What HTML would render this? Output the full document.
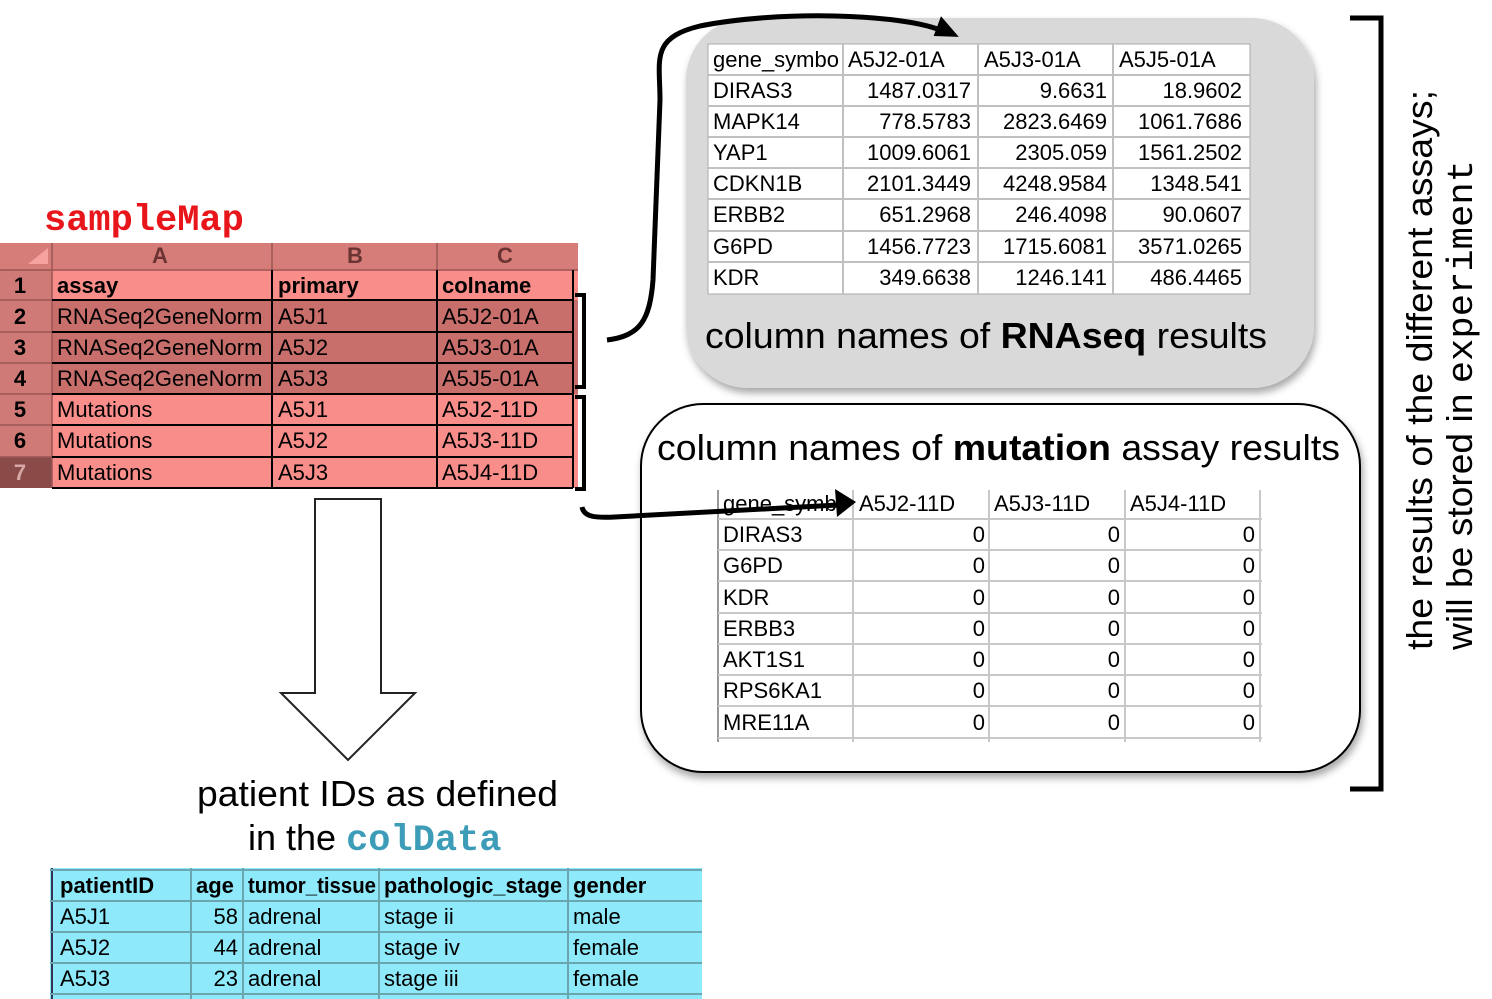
<!DOCTYPE html>
<html><head><meta charset="utf-8"><style>
html,body{margin:0;padding:0;background:#fff;width:1492px;height:999px;overflow:hidden}
svg{display:block}
.c{font-family:"Liberation Sans",sans-serif;fill:#000}
.b{font-weight:bold}
.m{font-family:"Liberation Mono",monospace;font-weight:bold}
</style></head><body>
<svg width="1492" height="999" viewBox="0 0 1492 999" xmlns="http://www.w3.org/2000/svg">
<defs>
<filter id="sh" x="-5%" y="-5%" width="110%" height="115%"><feDropShadow dx="2" dy="5" stdDeviation="4" flood-color="#000" flood-opacity="0.35"/></filter>
</defs>

<!-- sampleMap -->
<text x="44" y="230" class="m" font-size="37" fill="#e8151b">sampleMap</text>
<rect x="0" y="243" width="578" height="27" fill="#d67c79"/>
<rect x="0" y="270" width="52" height="218" fill="#d07a77"/>
<rect x="0" y="457" width="52" height="31" fill="#8a4a48"/>
<rect x="52" y="270" width="526" height="30" fill="#f98d8a"/>
<rect x="52" y="300" width="526" height="94" fill="#c86e6b"/>
<rect x="52" y="394" width="526" height="94" fill="#f98d8a"/>
<path d="M28,264 L48,264 L48,248 Z" fill="#f6a3a0"/>
<g stroke="#9a5654" stroke-width="1.5">
<line x1="52" y1="243" x2="52" y2="488"/>
<line x1="0" y1="270" x2="578" y2="270"/>
<line x1="272" y1="243" x2="272" y2="270"/><line x1="437" y1="243" x2="437" y2="270"/>
<line x1="0" y1="300" x2="52" y2="300"/><line x1="0" y1="332" x2="52" y2="332"/><line x1="0" y1="363" x2="52" y2="363"/><line x1="0" y1="394" x2="52" y2="394"/><line x1="0" y1="425" x2="52" y2="425"/><line x1="0" y1="457" x2="52" y2="457"/>
</g>
<g stroke="#000" stroke-width="2">
<line x1="52" y1="300" x2="573" y2="300"/><line x1="52" y1="332" x2="573" y2="332"/><line x1="52" y1="363" x2="573" y2="363"/><line x1="52" y1="394" x2="573" y2="394"/><line x1="52" y1="425" x2="573" y2="425"/><line x1="52" y1="457" x2="573" y2="457"/><line x1="52" y1="488" x2="573" y2="488"/>
<line x1="272" y1="270" x2="272" y2="488"/><line x1="437" y1="270" x2="437" y2="488"/><line x1="573" y1="270" x2="573" y2="488"/>
</g>
<g class="c" font-size="22" fill="#5a2a28" text-anchor="middle" font-weight="bold">
<text x="160" y="263" fill="#6a3433">A</text><text x="355" y="263" fill="#6a3433">B</text><text x="505" y="263" fill="#6a3433">C</text>
<text x="20" y="293">1</text><text x="20" y="324">2</text><text x="20" y="355">3</text><text x="20" y="386">4</text><text x="20" y="417">5</text><text x="20" y="448">6</text><text x="20" y="480" fill="#d8a8a6">7</text>
</g>
<g class="c" font-size="22">
<text x="57" y="293" class="b">assay</text><text x="278" y="293" class="b">primary</text><text x="442" y="293" class="b">colname</text>
<text x="57" y="324">RNASeq2GeneNorm</text><text x="278" y="324">A5J1</text><text x="442" y="324">A5J2-01A</text>
<text x="57" y="355">RNASeq2GeneNorm</text><text x="278" y="355">A5J2</text><text x="442" y="355">A5J3-01A</text>
<text x="57" y="386">RNASeq2GeneNorm</text><text x="278" y="386">A5J3</text><text x="442" y="386">A5J5-01A</text>
<text x="57" y="417">Mutations</text><text x="278" y="417">A5J1</text><text x="442" y="417">A5J2-11D</text>
<text x="57" y="448">Mutations</text><text x="278" y="448">A5J2</text><text x="442" y="448">A5J3-11D</text>
<text x="57" y="480">Mutations</text><text x="278" y="480">A5J3</text><text x="442" y="480">A5J4-11D</text>
</g>
<g fill="none" stroke="#000" stroke-width="4">
<path d="M575,295 L584,295 L584,387 L575,387"/>
<path d="M575,397 L584,397 L584,489 L575,489"/>
</g>

<!-- RNA box -->
<rect x="686" y="18" width="628" height="370" rx="62" fill="#d9d9d9" filter="url(#sh)"/>
<rect x="708" y="44" width="542" height="250" fill="#fff" stroke="#aaa"/>
<g stroke="#c0c0c0" stroke-width="2">
<line x1="843" y1="44" x2="843" y2="294"/><line x1="978" y1="44" x2="978" y2="294"/><line x1="1113" y1="44" x2="1113" y2="294"/>
<line x1="708" y1="75" x2="1250" y2="75"/><line x1="708" y1="106" x2="1250" y2="106"/><line x1="708" y1="137" x2="1250" y2="137"/><line x1="708" y1="168" x2="1250" y2="168"/><line x1="708" y1="199" x2="1250" y2="199"/><line x1="708" y1="231" x2="1250" y2="231"/><line x1="708" y1="262" x2="1250" y2="262"/>
</g>
<g class="c" font-size="22">
<text x="713" y="67">gene_symbo</text><text x="848" y="67">A5J2-01A</text><text x="984" y="67">A5J3-01A</text><text x="1119" y="67">A5J5-01A</text>
<text x="713" y="98">DIRAS3</text><text x="713" y="129">MAPK14</text><text x="713" y="160">YAP1</text><text x="713" y="191">CDKN1B</text><text x="713" y="222">ERBB2</text><text x="713" y="254">G6PD</text><text x="713" y="285">KDR</text>
</g>
<g class="c" font-size="22" text-anchor="end">
<text x="971" y="98">1487.0317</text><text x="1107" y="98">9.6631</text><text x="1242" y="98">18.9602</text>
<text x="971" y="129">778.5783</text><text x="1107" y="129">2823.6469</text><text x="1242" y="129">1061.7686</text>
<text x="971" y="160">1009.6061</text><text x="1107" y="160">2305.059</text><text x="1242" y="160">1561.2502</text>
<text x="971" y="191">2101.3449</text><text x="1107" y="191">4248.9584</text><text x="1242" y="191">1348.541</text>
<text x="971" y="222">651.2968</text><text x="1107" y="222">246.4098</text><text x="1242" y="222">90.0607</text>
<text x="971" y="254">1456.7723</text><text x="1107" y="254">1715.6081</text><text x="1242" y="254">3571.0265</text>
<text x="971" y="285">349.6638</text><text x="1107" y="285">1246.141</text><text x="1242" y="285">486.4465</text>
</g>
<text x="705" y="348" class="c" font-size="36" textLength="562" lengthAdjust="spacingAndGlyphs">column names of <tspan font-weight="bold">RNAseq</tspan> results</text>

<!-- Mutation box -->
<rect x="641" y="404" width="719" height="368" rx="62" fill="#fff" stroke="#000" stroke-width="2" filter="url(#sh)"/>
<text x="657" y="460" class="c" font-size="36" textLength="683" lengthAdjust="spacingAndGlyphs">column names of <tspan font-weight="bold">mutation</tspan> assay results</text>
<g stroke="#c8c8c8" stroke-width="2">
<line x1="718" y1="490" x2="718" y2="742" stroke="#999"/><line x1="853" y1="490" x2="853" y2="742"/><line x1="989" y1="490" x2="989" y2="742"/><line x1="1125" y1="490" x2="1125" y2="742"/><line x1="1260" y1="490" x2="1260" y2="742"/>
<line x1="718" y1="519" x2="1262" y2="519"/><line x1="718" y1="550" x2="1262" y2="550"/><line x1="718" y1="581" x2="1262" y2="581"/><line x1="718" y1="613" x2="1262" y2="613"/><line x1="718" y1="644" x2="1262" y2="644"/><line x1="718" y1="675" x2="1262" y2="675"/><line x1="718" y1="706" x2="1262" y2="706"/><line x1="718" y1="738" x2="1262" y2="738"/>
</g>
<g class="c" font-size="22">
<text x="723" y="511">gene_symb</text><text x="859" y="511">A5J2-11D</text><text x="994" y="511">A5J3-11D</text><text x="1130" y="511">A5J4-11D</text>
<text x="723" y="542">DIRAS3</text><text x="723" y="573">G6PD</text><text x="723" y="605">KDR</text><text x="723" y="636">ERBB3</text><text x="723" y="667">AKT1S1</text><text x="723" y="698">RPS6KA1</text><text x="723" y="730">MRE11A</text>
</g>
<g class="c" font-size="22" text-anchor="end">
<text x="985" y="542">0</text><text x="1120" y="542">0</text><text x="1255" y="542">0</text>
<text x="985" y="573">0</text><text x="1120" y="573">0</text><text x="1255" y="573">0</text>
<text x="985" y="605">0</text><text x="1120" y="605">0</text><text x="1255" y="605">0</text>
<text x="985" y="636">0</text><text x="1120" y="636">0</text><text x="1255" y="636">0</text>
<text x="985" y="667">0</text><text x="1120" y="667">0</text><text x="1255" y="667">0</text>
<text x="985" y="698">0</text><text x="1120" y="698">0</text><text x="1255" y="698">0</text>
<text x="985" y="730">0</text><text x="1120" y="730">0</text><text x="1255" y="730">0</text>
</g>

<!-- connector arrows -->
<g fill="none" stroke="#000" stroke-width="5">
<path d="M607,340 C640,336 650,320 653,280 L660,100 C660,60 650,38 700,26 C780,10 900,14 940,30"/>
<path d="M582,507 C584,517 595,518 615,517 L838,505"/>
</g>
<path d="M958,38 L942,16 L933,35 Z" fill="#000" transform="rotate(-5 945 28)"/>
<path d="M856,502 L835,489 L837,517 Z" fill="#000"/>

<!-- big bracket -->
<path d="M1350,18 L1381,18 L1381,789 L1350,789" fill="none" stroke="#000" stroke-width="5"/>
<g class="c" font-size="36">
<text transform="translate(1432,650) rotate(-90)" textLength="560" lengthAdjust="spacingAndGlyphs">the results of the different assays;</text>
<text transform="translate(1472,650) rotate(-90)" textLength="490" lengthAdjust="spacingAndGlyphs">will be stored in <tspan font-family="Liberation Mono,monospace">experiment</tspan></text>
</g>

<!-- down arrow -->
<path d="M315,499 L381,499 L381,693 L415,693 L348,760 L281,693 L315,693 Z" fill="#fff" stroke="#222" stroke-width="2"/>
<text x="197" y="806" class="c" font-size="36" textLength="361" lengthAdjust="spacingAndGlyphs">patient IDs as defined</text>
<text x="248" y="850" class="c" font-size="36">in the <tspan class="m" fill="#3d9db8" font-size="37">colData</tspan></text>

<!-- colData -->
<rect x="50" y="868" width="652" height="131" fill="#8eeafb"/>
<g stroke="#6aa5b0" stroke-width="2">
<line x1="52" y1="868" x2="52" y2="999" stroke="#335"/>
<line x1="191" y1="868" x2="191" y2="999"/><line x1="243" y1="868" x2="243" y2="999"/><line x1="379" y1="868" x2="379" y2="999"/><line x1="568" y1="868" x2="568" y2="999"/>
<line x1="50" y1="870" x2="702" y2="870"/><line x1="50" y1="901" x2="702" y2="901"/><line x1="50" y1="932" x2="702" y2="932"/><line x1="50" y1="963" x2="702" y2="963"/><line x1="50" y1="994" x2="702" y2="994"/>
</g>
<g class="c" font-size="22">
<text x="60" y="893" class="b">patientID</text><text x="196" y="893" class="b">age</text><text x="248" y="893" class="b" textLength="128" lengthAdjust="spacingAndGlyphs">tumor_tissue</text><text x="384" y="893" class="b" textLength="178" lengthAdjust="spacingAndGlyphs">pathologic_stage</text><text x="573" y="893" class="b">gender</text>
<text x="60" y="924">A5J1</text><text x="238" y="924" text-anchor="end">58</text><text x="248" y="924">adrenal</text><text x="384" y="924">stage ii</text><text x="573" y="924">male</text>
<text x="60" y="955">A5J2</text><text x="238" y="955" text-anchor="end">44</text><text x="248" y="955">adrenal</text><text x="384" y="955">stage iv</text><text x="573" y="955">female</text>
<text x="60" y="986">A5J3</text><text x="238" y="986" text-anchor="end">23</text><text x="248" y="986">adrenal</text><text x="384" y="986">stage iii</text><text x="573" y="986">female</text>
</g>
</svg>
</body></html>
